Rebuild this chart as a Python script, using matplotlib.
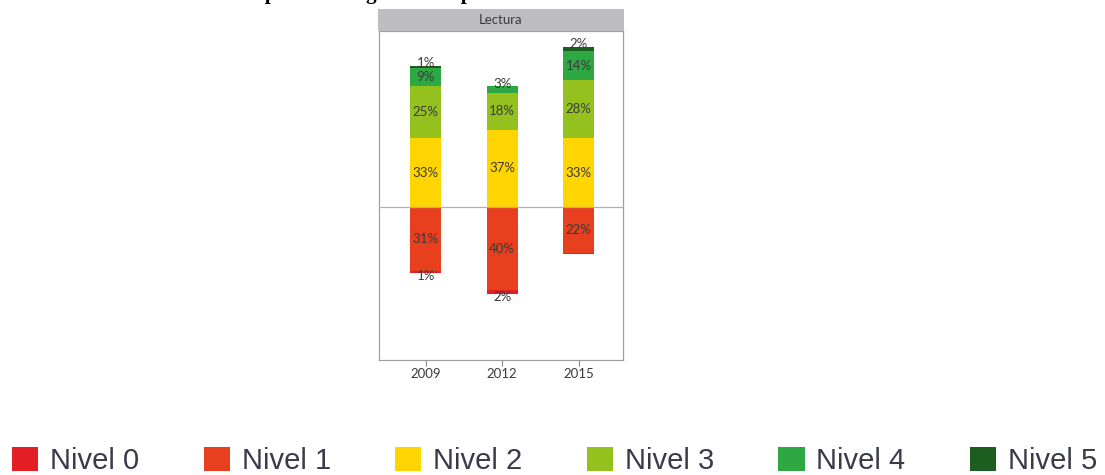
import matplotlib
matplotlib.use('Agg')
import matplotlib.pyplot as plt
from matplotlib.patches import Patch
import numpy as np

# datos (porcentaje de estudiantes por nivel)
years = ['2009', '2012', '2015']
levels = ['Nivel 0', 'Nivel 1', 'Nivel 2', 'Nivel 3', 'Nivel 4', 'Nivel 5']
nivel0 = [1, 2, 0.8]
nivel1 = [31, 40, 22]
nivel2 = [33, 37, 33]
nivel3 = [25, 18, 28]
nivel4 = [9, 3, 14]
nivel5 = [1, 0, 2]
colors = ['#e31e24', '#e8401e', '#ffd500', '#95c11f', '#2ea843', '#1b5e20']

panel_title = 'Lectura'
title = 'Comparación según desempeño'

txt_color = '#3a3a3a'
lab_font = ['Lato', 'DejaVu Sans']

fig = plt.figure(figsize=(11.05, 4.75), dpi=100)
ax = fig.add_axes([379 / 1105, 1 - 360 / 475, 244 / 1105, 329 / 475])

x = np.arange(len(years))
w = 0.405

def put_label(xi, y0, v, sign):
    if v < 1:
        return
    if v < 4:
        yl = y0 + sign * v + sign * 1.2
    else:
        yl = y0 + sign * v / 2
    ax.text(xi, yl, f'{v:.0f}%', ha='center', va='center', fontsize=9.5,
            color=txt_color, family=lab_font, zorder=5)

# parte negativa: nivel 1 y nivel 0 hacia abajo
neg = [nivel1, nivel0]
bottom = np.zeros(len(years))
for vals, c in zip(neg, [colors[1], colors[0]]):
    vals = np.array(vals, dtype=float)
    ax.bar(x, -vals, w, bottom=-bottom, color=c, edgecolor='none', zorder=2)
    for xi, b, v in zip(x, bottom, vals):
        put_label(xi, -b, v, -1)
    bottom += vals

# parte positiva: nivel 2 a 5
pos = [nivel2, nivel3, nivel4, nivel5]
bottom = np.zeros(len(years))
for vals, c in zip(pos, colors[2:]):
    vals = np.array(vals, dtype=float)
    ax.bar(x, vals, w, bottom=bottom, color=c, edgecolor='none', zorder=2)
    for xi, b, v in zip(x, bottom, vals):
        put_label(xi, b, v, 1)
    bottom += vals

ax.axhline(0, color='#b0b0b0', lw=0.9, zorder=4)
ax.set_ylim(-73.6, 84.6)
ax.set_xlim(-0.61, 2.58)
ax.set_xticks(x)
ax.set_xticklabels(years, fontsize=9.5, color=txt_color, family=lab_font)
ax.set_yticks([])
ax.tick_params(axis='x', length=4, color='#888888', pad=2)
for s in ax.spines.values():
    s.set_color('#a0a0a0')
    s.set_linewidth(0.9)

# cabecera del panel
hax = fig.add_axes([378 / 1105, 1 - 31 / 475, 246 / 1105, 22 / 475])
hax.set_facecolor('#bebec2')
hax.set_xticks([])
hax.set_yticks([])
for s in hax.spines.values():
    s.set_visible(False)
hax.text(0.5, 0.5, panel_title, ha='center', va='center', fontsize=9.5,
         color=txt_color, family=lab_font, transform=hax.transAxes)

# titulo recortado arriba (solo se ven los trazos descendentes)
fig.text(222 / 1105, 1 + 1.5 / 475, title, ha='left', va='baseline',
         fontsize=15, fontweight='bold', family='Liberation Serif', color='black')

# leyenda
handles = [Patch(facecolor=c, edgecolor='none', label=l) for c, l in zip(colors, levels)]
fig.legend(handles=handles, loc='lower left', bbox_to_anchor=(12 / 1105, 0.0),
           ncol=6, frameon=False, handlelength=0.9, handleheight=0.9,
           handletextpad=0.41, columnspacing=2.2, borderpad=0, borderaxespad=0,
           prop={'family': 'Liberation Sans', 'size': 21})
for t in fig.legends[0].get_texts():
    t.set_color('#3a3a4a')

plt.savefig('out.png', dpi=100)
